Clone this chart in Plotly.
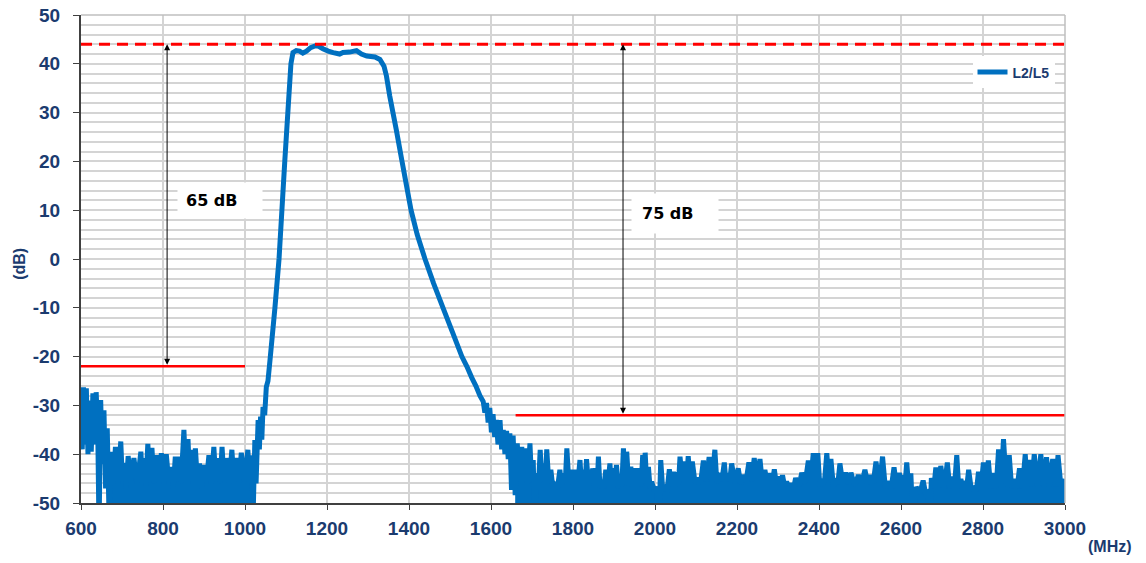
import plotly.graph_objects as go

# ---- measured response, L2/L5 channel ----
# low-side stop band (600 - 1056 MHz): (MHz, dB)
stop_low = [
    (600, -28.0), (603, -39.0), (606, -26.3), (610, -38.0), (613, -26.5), (617, -40.0),
    (621, -29.0), (625, -39.5), (629, -27.5), (633, -38.0), (637, -27.3), (641, -36.0),
    (644, -56.0), (648, -28.9), (652, -42.0), (656, -31.0), (660, -47.0), (664, -34.7),
    (669, -55.0), (674, -39.5), (679, -45.5), (684, -38.5), (690, -46.0), (697, -37.4),
    (701, -45.5), (706, -41.8), (710, -47.0), (715, -40.4), (722, -45.5), (729, -40.8),
    (737, -46.0), (746, -39.5), (750, -45.5), (754, -40.8), (758, -46.5), (763, -37.9),
    (768, -45.5), (773, -38.7), (778, -46.0), (784, -40.2), (790, -45.5), (796, -39.8),
    (802, -46.0), (808, -40.0), (814, -45.5), (820, -42.6), (825, -47.0), (830, -40.5),
    (833, -45.5), (838, -40.5), (844, -46.0), (851, -35.0), (856, -45.5), (861, -36.9),
    (865, -45.5), (869, -39.1), (874, -46.0), (879, -38.8), (884, -45.5), (889, -41.9),
    (894, -47.0), (900, -42.2), (906, -45.5), (912, -40.2), (918, -46.0), (924, -38.5),
    (929, -45.5), (934, -40.8), (939, -46.0), (944, -38.5), (949, -45.5), (954, -40.8),
    (961, -46.0), (968, -39.1), (973, -45.5), (979, -40.8), (985, -46.0), (991, -39.7),
    (999, -45.5), (1007, -39.1), (1011, -46.0), (1015, -40.2), (1019, -56.0),
    (1024, -37.1), (1027, -46.0), (1032, -33.0), (1035, -39.0), (1038, -32.3),
    (1041, -37.0), (1044, -30.3), (1048, -32.0), (1052, -26.2), (1056, -25.0),
]

# pass band and skirts (1061 - 1581 MHz)
band = [
    (1061, -20.7), (1073, -10.0), (1083, 0.0), (1097, 20.0), (1112, 40.0), (1117, 42.3),
    (1125, 42.7), (1133, 42.6), (1141, 42.2), (1150, 42.6), (1160, 43.3), (1172, 43.7),
    (1180, 43.6), (1190, 43.1), (1203, 42.6), (1215, 42.3), (1231, 42.0), (1239, 42.3),
    (1255, 42.4), (1272, 42.7), (1284, 42.0), (1297, 41.6), (1317, 41.4), (1329, 40.9),
    (1339, 39.5), (1345, 37.5), (1353, 33.4), (1369, 26.5), (1383, 20.0), (1394, 15.0),
    (1405, 10.0), (1420, 5.0), (1439, 0.0), (1460, -5.0), (1483, -10.0), (1506, -15.0),
    (1529, -20.0), (1541, -22.0), (1553, -24.3), (1563, -26.0), (1573, -28.0), (1581, -29.2),
]

# high-side stop band (1585 - 3000 MHz)
stop_high = [
    (1585, -31.5), (1589, -29.5), (1593, -33.5), (1597, -30.5), (1601, -35.5), (1605, -31.8),
    (1609, -36.5), (1613, -33.0), (1617, -38.0), (1622, -33.0), (1626, -39.0), (1630, -35.0),
    (1634, -40.0), (1638, -35.2), (1642, -41.0), (1646, -35.7), (1650, -47.3), (1654, -36.2),
    (1659, -48.4), (1664, -37.8), (1670, -45.5), (1675, -38.5), (1679, -45.5), (1683, -38.8),
    (1689, -46.0), (1695, -37.8), (1699, -45.5), (1703, -41.2), (1707, -56), (1711, -43.9),
    (1716, -46.0), (1720, -39.1), (1724, -45.5), (1728, -41.9), (1732, -46.0), (1736, -39.0),
    (1741, -46.0), (1746, -43.2), (1751, -47.0), (1756, -46.3), (1762, -47.0), (1768, -43.2),
    (1772, -46.5), (1776, -43.9), (1781, -46.0), (1785, -38.8), (1790, -46.0), (1794, -43.2),
    (1800, -46.5), (1805, -43.2), (1811, -46.5), (1817, -41.2), (1821, -46.5), (1825, -43.2),
    (1829, -46.5), (1833, -41.0), (1838, -46.5), (1842, -43.2), (1845, -46.0), (1848, -42.9),
    (1852, -46.5), (1856, -42.9), (1859, -46.5), (1862, -40.5), (1866, -47.0), (1870, -45.3),
    (1875, -47.0), (1880, -43.2), (1885, -46.5), (1890, -41.9), (1894, -46.5), (1898, -42.9),
    (1902, -46.5), (1906, -42.2), (1911, -47.0), (1915, -45.3), (1919, -46.5), (1923, -38.8),
    (1927, -46.0), (1931, -39.5), (1936, -46.5), (1941, -42.6), (1946, -46.5), (1951, -42.9),
    (1957, -46.5), (1962, -42.9), (1966, -46.5), (1970, -40.2), (1973, -46.0), (1976, -39.7),
    (1980, -46.5), (1984, -42.6), (1988, -47.0), (1992, -45.6), (1998, -47.5), (2004, -46.7),
    (2009, -56), (2014, -41.2), (2019, -47.5), (2024, -46.7), (2030, -47.0), (2035, -43.1),
    (2040, -46.5), (2045, -43.6), (2049, -46.5), (2053, -43.7), (2057, -46.5), (2061, -40.5),
    (2067, -45.5), (2072, -41.5), (2077, -45.5), (2081, -40.4), (2086, -45.5), (2091, -41.5),
    (2098, -46.0), (2104, -44.9), (2111, -46.0), (2118, -41.3), (2125, -45.5), (2132, -40.6),
    (2139, -45.5), (2146, -39.1), (2151, -46.0), (2156, -43.9), (2163, -45.5), (2169, -41.7),
    (2173, -45.5), (2177, -43.9), (2182, -45.5), (2187, -41.9), (2195, -46.0), (2203, -42.9),
    (2209, -46.0), (2215, -44.3), (2222, -45.5), (2229, -41.7), (2236, -45.5), (2242, -40.8),
    (2249, -45.5), (2256, -41.0), (2262, -46.0), (2268, -43.2), (2274, -46.0), (2280, -43.9),
    (2286, -46.0), (2291, -43.1), (2296, -46.0), (2301, -44.6), (2306, -46.5), (2311, -44.3),
    (2316, -46.5), (2321, -45.6), (2327, -47.0), (2332, -46.0), (2338, -47.0), (2343, -44.9),
    (2351, -46.5), (2358, -43.8), (2366, -46.0), (2374, -41.3), (2380, -45.5), (2386, -39.8),
    (2392, -45.5), (2397, -39.8), (2402, -46.5), (2407, -45.6), (2413, -46.0), (2419, -39.8),
    (2424, -45.5), (2429, -41.0), (2435, -46.5), (2441, -45.6), (2446, -46.0), (2451, -41.9),
    (2458, -46.0), (2465, -43.8), (2472, -46.0), (2478, -43.8), (2487, -46.5), (2496, -44.3),
    (2504, -46.0), (2512, -43.2), (2519, -46.0), (2525, -44.3), (2532, -46.0), (2539, -41.5),
    (2547, -46.5), (2555, -40.5), (2562, -47.0), (2569, -45.6), (2576, -47.0), (2583, -42.7),
    (2590, -47.0), (2596, -43.8), (2600, -47.0), (2604, -44.3), (2609, -47.0), (2614, -41.7),
    (2619, -47.0), (2624, -43.9), (2630, -56), (2637, -46.7), (2646, -48.0), (2654, -45.4),
    (2660, -48.0), (2666, -47.7), (2670, -56), (2674, -44.9), (2680, -47.0), (2685, -42.7),
    (2691, -47.0), (2697, -42.4), (2705, -47.0), (2713, -41.7), (2719, -47.0), (2724, -44.6),
    (2730, -47.0), (2736, -40.2), (2741, -47.0), (2746, -45.1), (2751, -47.0), (2755, -45.5),
    (2760, -47.0), (2765, -43.2), (2772, -47.5), (2778, -47.0), (2784, -47.5), (2789, -43.6),
    (2795, -47.0), (2801, -41.7), (2807, -47.0), (2813, -41.3), (2819, -47.0), (2825, -43.9),
    (2832, -47.0), (2838, -39.0), (2844, -46.5), (2850, -36.9), (2857, -46.5), (2864, -40.2),
    (2870, -47.0), (2876, -45.1), (2883, -47.0), (2889, -42.9), (2896, -47.0), (2903, -40.0),
    (2908, -46.5), (2913, -41.2), (2919, -46.5), (2925, -40.0), (2933, -46.5), (2941, -40.0),
    (2948, -46.5), (2955, -40.6), (2962, -46.5), (2970, -41.0), (2977, -46.5), (2983, -40.2),
    (2990, -46.5), (2996, -45.1), (3000, -48.0),
]

# dense noise floors are shaded solid over these frequency spans
low_floor_span, high_floor_span = (664, 1019), (1659, 3000)
floor_base_db = -60

# reference levels (dB) and their spans (MHz)
peak_ref_db = 44
low_mask_db, low_mask_span = -22, (600, 1000)
high_mask_db, high_mask_span = -32, (1660, 3000)
low_arrow_mhz, high_arrow_mhz = 810, 1922
low_label, high_label = "65 dB", "75 dB"

x_ticks = list(range(600, 3001, 200))
y_ticks = list(range(-50, 51, 10))

NAVY = "#1B3B6F"
BLUE = "#0070C0"
RED = "#FF0000"
GRID = "#D4D4D4"

pts = stop_low + band + stop_high
freq = [p[0] for p in pts]
gain = [p[1] for p in pts]

fig = go.Figure()

# solid body of the noise floor (area under the trace in the stop bands)
for seg, (f0, f1) in ((stop_low, low_floor_span), (stop_high, high_floor_span)):
    sub = [p for p in seg if f0 <= p[0] <= f1]
    fx = [p[0] for p in sub] + [sub[-1][0], sub[0][0]]
    fy = [p[1] for p in sub] + [floor_base_db, floor_base_db]
    fig.add_trace(go.Scatter(x=fx, y=fy, mode="lines", fill="toself", fillcolor=BLUE,
                             line=dict(width=0, color=BLUE), showlegend=False, hoverinfo="skip"))

fig.add_trace(go.Scatter(
    x=freq, y=gain, mode="lines", name="<b>L2/L5</b>",
    line=dict(color=BLUE, width=5, simplify=False),
))

# dashed peak reference and the two mask limits
fig.add_shape(type="line", xref="x", yref="y", x0=600, x1=3000, y0=peak_ref_db, y1=peak_ref_db,
              line=dict(color=RED, width=3, dash="11px,7px"))
fig.add_shape(type="line", xref="x", yref="y", x0=low_mask_span[0], x1=low_mask_span[1],
              y0=low_mask_db, y1=low_mask_db, line=dict(color=RED, width=2.5))
fig.add_shape(type="line", xref="x", yref="y", x0=high_mask_span[0], x1=high_mask_span[1],
              y0=high_mask_db, y1=high_mask_db, line=dict(color=RED, width=2.5))

# plot frame: grey top/right edges
fig.add_shape(type="line", xref="paper", yref="paper", x0=0, x1=1, y0=1, y1=1,
              line=dict(color="#BFBFBF", width=1.5))
fig.add_shape(type="line", xref="paper", yref="paper", x0=1, x1=1, y0=0, y1=1,
              line=dict(color="#BFBFBF", width=1.5))

# double-headed rejection arrows
for xm, ylo in ((low_arrow_mhz, low_mask_db), (high_arrow_mhz, high_mask_db)):
    fig.add_annotation(x=xm, y=peak_ref_db, ax=xm, ay=ylo, xref="x", yref="y",
                       axref="x", ayref="y", text="", showarrow=True,
                       arrowhead=2, startarrowhead=2, arrowside="end+start",
                       arrowsize=1.2, startarrowsize=1.2, arrowwidth=1, arrowcolor="#000000")

label_font = dict(family="DejaVu Sans", size=16, color="#000000")
fig.add_annotation(x=939, y=12.0, xref="x", yref="y", text=f"<b>{low_label}</b>", showarrow=False,
                   font=label_font, bgcolor="#FFFFFF", width=68, height=19, borderpad=8,
                   align="left")
fig.add_annotation(x=2049, y=9.4, xref="x", yref="y", text=f"<b>{high_label}</b>", showarrow=False,
                   font=label_font, bgcolor="#FFFFFF", width=66, height=19, borderpad=10,
                   align="left")

# axis unit labels
fig.add_annotation(xref="paper", yref="paper", x=-0.062, y=0.49, xanchor="center", yanchor="middle",
                   text="<b>(dB)</b>", textangle=-90, showarrow=False,
                   font=dict(family="Liberation Sans", size=16, color=NAVY))
fig.add_annotation(xref="paper", yref="paper", x=1.046, y=-0.09, xanchor="center", yanchor="middle",
                   text="<b>(MHz)</b>", showarrow=False,
                   font=dict(family="Liberation Sans", size=16, color=NAVY))

tick_font = dict(family="Liberation Sans", size=19, color=NAVY)
fig.update_xaxes(
    range=[600, 3000], tickvals=x_ticks, ticktext=[f"<b>{v}</b>" for v in x_ticks],
    tickfont=tick_font, showgrid=True, gridcolor=GRID, gridwidth=1.5,
    showline=True, linecolor="#404040", linewidth=1.5, automargin=False,
    ticks="outside", ticklen=5, tickcolor="#404040", zeroline=False, ticklabelstandoff=2,
)
fig.update_yaxes(
    range=[-50, 50], tickvals=y_ticks, ticktext=[f"<b>{v}</b>" for v in y_ticks],
    tickfont=tick_font, showgrid=True, gridcolor=GRID, gridwidth=1.5,
    minor=dict(dtick=2, showgrid=True, gridcolor=GRID, gridwidth=1.5),
    showline=True, linecolor="#404040", linewidth=2, automargin=False,
    ticks="outside", ticklen=6, tickcolor="#404040", zeroline=False, ticklabelstandoff=9,
)

fig.update_layout(
    width=1146, height=563,
    margin=dict(l=81, r=81, t=15, b=60),
    plot_bgcolor="#FFFFFF", paper_bgcolor="#FFFFFF",
    showlegend=True,
    legend=dict(x=0.906, y=0.915, xanchor="left", yanchor="top", bgcolor="#FFFFFF",
                font=dict(family="Liberation Sans", size=14, color=NAVY),
                itemwidth=30, tracegroupgap=0),
)

fig.write_html("out.html")
